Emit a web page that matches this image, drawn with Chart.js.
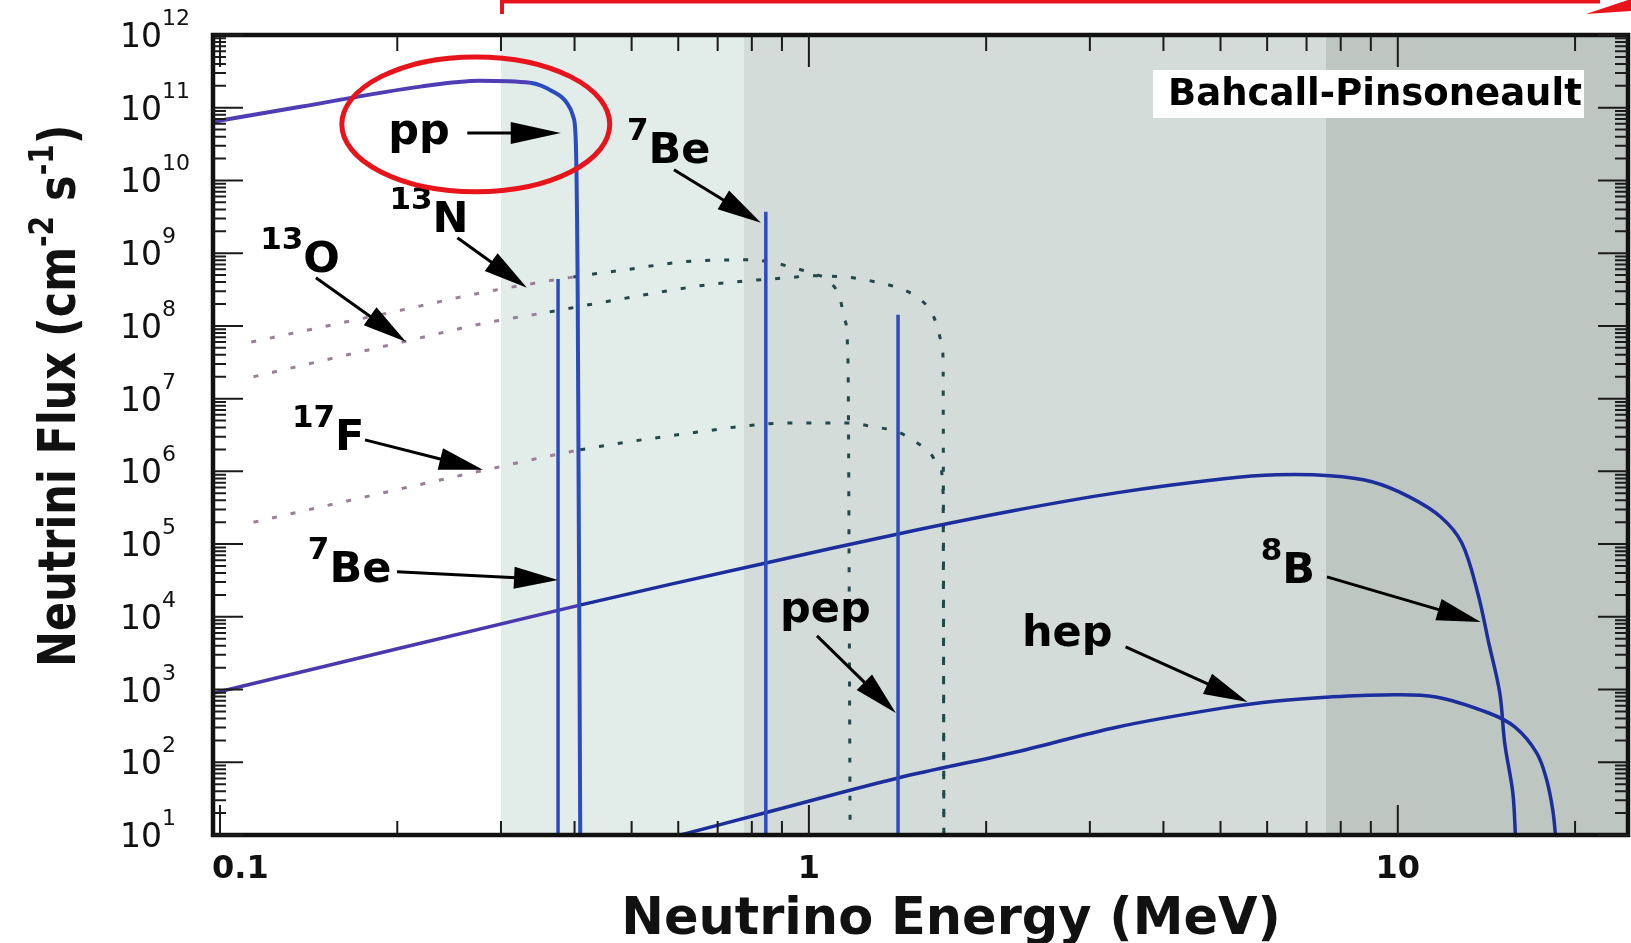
<!DOCTYPE html>
<html>
<head>
<meta charset="utf-8">
<title>Solar neutrino spectrum</title>
<script src="https://cdn.jsdelivr.net/npm/chart.js@4.4.1/dist/chart.umd.min.js"></script>
<style>
	html, body { margin: 0; padding: 0; background: #fff; }
	#wrap { width: 1631px; height: 943px; position: relative; }
</style>
</head>
<body>
<div id="wrap"><canvas id="flux"></canvas></div>
<script>
// axis limits: energy in MeV, flux in cm^-2 s^-1
var xMin = 0.0973, xMax = 24.6;
var yMin = 10, yMax = 1e12;
var xTickValues = [0.1, 1, 10];
var xTickLabels = ['0.1', '1', '10'];
var yTickExps = [1, 2, 3, 4, 5, 6, 7, 8, 9, 10, 11, 12];

// shaded threshold regions start at these energies
var bandEdges = [0.3, 0.775, 7.55];

// continuum spectra
var ppEnergy = [0.0973, 0.137, 0.219, 0.276, 0.336, 0.368, 0.388, 0.398, 0.402, 0.405, 0.409];
var ppFlux = [6.4e10, 1.03e11, 1.95e11, 2.35e11, 2.2e11, 1.66e11, 1.17e11, 7.5e10, 3.3e10, 2.3e8, 10];

var b8Energy = [0.0977, 0.410, 0.845, 1.417, 2.211, 3.346, 5.066, 6.230, 7.665, 9.035, 10.44, 11.83, 12.84, 13.67, 14.27, 14.90, 15.19, 15.68, 15.85];
var b8Flux = [898, 1.46e4, 5.5e4, 1.38e5, 2.85e5, 5.1e5, 7.9e5, 8.95e5, 8.7e5, 7.2e5, 4.5e5, 2.36e5, 1.04e5, 2.13e4, 4.4e3, 898, 184, 37.8, 9];

var hepEnergy = [0.59, 0.859, 1.417, 2.211, 3.346, 5.066, 6.230, 7.665, 9.43, 11.60, 14.27, 15.80, 17.22, 17.90, 18.33, 18.55];
var hepFlux = [9.5, 21, 60.8, 134, 306, 560, 697, 791, 843, 791, 476, 306, 134, 57, 22, 9];

var n13Energy = [0.113, 0.204, 0.283, 0.398, 0.472, 0.653, 0.794, 0.859, 0.928, 1.004, 1.086, 1.129, 1.151, 1.165, 1.175];
var n13Flux = [6.0e7, 1.66e8, 2.94e8, 4.7e8, 5.7e8, 7.9e8, 8.1e8, 7.6e8, 6.5e8, 5.4e8, 4.0e8, 2.4e8, 1.2e8, 3.4e7, 10];

var o15Energy = [0.114, 0.204, 0.283, 0.363, 0.472, 0.653, 0.785, 0.921, 1.012, 1.188, 1.294, 1.400, 1.514, 1.605, 1.649, 1.682, 1.690, 1.695];
var o15Flux = [2.0e7, 6.0e7, 1.10e8, 1.56e8, 2.29e8, 3.56e8, 4.17e8, 4.59e8, 4.89e8, 4.59e8, 4.05e8, 3.45e8, 2.6e8, 1.66e8, 1.04e8, 5.85e7, 3.2e7, 10];

var f17Energy = [0.114, 0.283, 0.409, 0.653, 0.849, 1.004, 1.174, 1.284, 1.400, 1.502, 1.605, 1.669, 1.690, 1.695];
var f17Flux = [2.0e5, 1.05e6, 1.98e6, 3.5e6, 4.5e6, 4.64e6, 4.64e6, 4.1e6, 3.6e6, 2.7e6, 1.8e6, 1.15e6, 5e5, 10];

// line sources: 7Be (two lines) and pep
var be7Energy = [0.375, 0.845];
var be7Flux = [4.4e8, 3.7e9];
var pepEnergy = [1.417];
var pepFlux = [1.42e8];

// labels: superscript, main text, text anchor (left, baseline), arrow tail and tip
var noteSup = ['', '7', '13', '13', '17', '7', '', '', '8'];
var noteMain = ['pp', 'Be', 'N', 'O', 'F', 'Be', 'pep', 'hep', 'B'];
var noteAt = [[0.193, 3.2e10], [0.491, 1.75e10], [0.194, 1.97e9], [0.117, 5.55e8], [0.1325, 1.98e6], [0.141, 3.02e4], [0.893, 8.5e3], [2.30, 3.98e3], [5.85, 2.93e4]];
var arrowFrom = [[0.263, 4.5e10], [0.590, 1.40e10], [0.253, 1.63e9], [0.1455, 4.59e8], [0.1763, 2.71e6], [0.1998, 4.15e4], [1.032, 5.46e3], [3.45, 3.85e3], [7.58, 3.54e4]];
var arrowTo = [[0.379, 4.5e10], [0.829, 2.62e9], [0.332, 3.34e8], [0.2069, 6.04e7], [0.2796, 1.05e6], [0.375, 3.22e4], [1.405, 476], [5.56, 675], [13.83, 8.5e3]];

// red highlight round the pp label: energy range and flux range
var ringEnergy = [0.161, 0.459];
var ringFlux = [7e9, 5e11];

var FONT = '"DejaVu Sans", Arial, sans-serif';
var BAND_COLORS = ['#e2ece9', '#d3dcd8', '#bec6c2'];

function pts(e, f) {
	return e.map(function (v, i) { return {x: v, y: f[i]}; });
}

function tint(inWhite, inShade) {
	return function (c) { return c.p0.parsed.x < bandEdges[0] ? inWhite : inShade; };
}

function rich(ctx, x, y, parts, size, supSize, raise, weight) {
	var cx = x;
	parts.forEach(function (p) {
		ctx.font = weight + ' ' + (p[1] ? supSize : size) + 'px ' + FONT;
		ctx.fillText(p[0], cx, p[1] ? y - raise : y);
		cx += ctx.measureText(p[0]).width;
	});
	return cx - x;
}

function arrow(ctx, x0, y0, x1, y1, len, half) {
	var ang = Math.atan2(y1 - y0, x1 - x0);
	var bx = x1 - len * Math.cos(ang), by = y1 - len * Math.sin(ang);
	ctx.beginPath();
	ctx.moveTo(x0, y0);
	ctx.lineTo(bx + 2 * Math.cos(ang), by + 2 * Math.sin(ang));
	ctx.stroke();
	ctx.beginPath();
	ctx.moveTo(x1, y1);
	ctx.lineTo(bx + half * Math.sin(ang), by - half * Math.cos(ang));
	ctx.lineTo(bx - half * Math.sin(ang), by + half * Math.cos(ang));
	ctx.closePath();
	ctx.fill();
}

var decor = {
	id: 'decor',
	beforeDatasetsDraw: function (chart) {
		var ctx = chart.ctx, a = chart.chartArea, xs = chart.scales.x;
		ctx.save();
		bandEdges.forEach(function (e, i) {
			var x0 = xs.getPixelForValue(e);
			var x1 = i + 1 < bandEdges.length ? xs.getPixelForValue(bandEdges[i + 1]) : a.right;
			ctx.fillStyle = BAND_COLORS[i];
			ctx.fillRect(x0, a.top, x1 - x0, a.bottom - a.top);
		});
		ctx.restore();
	},
	afterDatasetsDraw: function (chart) {
		var ctx = chart.ctx, a = chart.chartArea, xs = chart.scales.x, ys = chart.scales.y;
		var d, m, v, p, len;
		ctx.save();

		// frame
		ctx.strokeStyle = '#111';
		ctx.lineWidth = 4.5;
		ctx.strokeRect(a.left, a.top, a.right - a.left, a.bottom - a.top);

		// inward ticks on all four sides
		ctx.lineWidth = 2;
		ctx.strokeStyle = '#1b1b1b';
		ctx.beginPath();
		for (d = -1; d <= 1; d++) {
			for (m = 1; m <= 9; m++) {
				v = m * Math.pow(10, d);
				if (v < xMin || v > xMax) continue;
				p = xs.getPixelForValue(v);
				len = m === 1 ? 30 : 14;
				ctx.moveTo(p, a.bottom); ctx.lineTo(p, a.bottom - len);
				ctx.moveTo(p, a.top); ctx.lineTo(p, a.top + len + 2);
			}
		}
		for (d = 1; d <= 12; d++) {
			for (m = 1; m <= 9; m++) {
				v = m * Math.pow(10, d);
				if (v > yMax) continue;
				p = ys.getPixelForValue(v);
				len = m === 1 ? 30 : 13;
				ctx.moveTo(a.left, p); ctx.lineTo(a.left + len, p);
				ctx.moveTo(a.right, p); ctx.lineTo(a.right - len, p);
			}
		}
		ctx.stroke();

		// tick labels
		ctx.fillStyle = '#111';
		ctx.textBaseline = 'alphabetic';
		ctx.textAlign = 'left';
		yTickExps.forEach(function (k) {
			var py = ys.getPixelForValue(Math.pow(10, k));
			rich(ctx, a.left - 93, py + 12, [['10', 0], [String(k), 1]], 33, 22, 22, 'normal');
		});
		ctx.font = 'bold 32px ' + FONT;
		xTickValues.forEach(function (t, i) {
			var px = xs.getPixelForValue(t);
			if (px - ctx.measureText(xTickLabels[i]).width / 2 < a.left) {
				ctx.textAlign = 'left';
				ctx.fillText(xTickLabels[i], a.left - 1, a.bottom + 43);
			} else {
				ctx.textAlign = 'center';
				ctx.fillText(xTickLabels[i], px, a.bottom + 43);
			}
		});

		// axis titles
		ctx.textAlign = 'center';
		ctx.font = 'bold 51px ' + FONT;
		ctx.fillText('Neutrino Energy (MeV)', a.left + 738, a.bottom + 99);
		ctx.save();
		ctx.textAlign = 'left';
		ctx.translate(a.left - 138, a.bottom - 168);
		ctx.rotate(-Math.PI / 2);
		ctx.scale(1, 1.2);
		rich(ctx, 0, 0, [['Neutrini Flux (cm', 0], ['-2', 1], [' s', 0], ['-1', 1], [')', 0]], 43, 28, 18, 'bold');
		ctx.restore();

		// source labels with arrows
		ctx.textAlign = 'left';
		ctx.lineWidth = 3;
		ctx.strokeStyle = '#000';
		ctx.fillStyle = '#000';
		noteMain.forEach(function (txt, i) {
			var x = xs.getPixelForValue(noteAt[i][0]), y = ys.getPixelForValue(noteAt[i][1]);
			var parts = noteSup[i] ? [[noteSup[i], 1], [txt, 0]] : [[txt, 0]];
			rich(ctx, x, y, parts, 43, 31, 23, 'bold');
			arrow(ctx, xs.getPixelForValue(arrowFrom[i][0]), ys.getPixelForValue(arrowFrom[i][1]),
				xs.getPixelForValue(arrowTo[i][0]), ys.getPixelForValue(arrowTo[i][1]), i === 0 ? 50 : 44, 11);
		});

		// red ring round pp
		var rx0 = xs.getPixelForValue(ringEnergy[0]), rx1 = xs.getPixelForValue(ringEnergy[1]);
		var ry0 = ys.getPixelForValue(ringFlux[1]), ry1 = ys.getPixelForValue(ringFlux[0]);
		ctx.strokeStyle = '#e8141b';
		ctx.lineWidth = 5;
		ctx.beginPath();
		ctx.ellipse((rx0 + rx1) / 2, (ry0 + ry1) / 2, (rx1 - rx0) / 2, (ry1 - ry0) / 2, 0, 0, Math.PI * 2);
		ctx.stroke();

		// red bracket running along the top edge
		ctx.lineWidth = 4;
		ctx.beginPath();
		ctx.moveTo(502, 14);
		ctx.lineTo(502, 1.5);
		ctx.lineTo(1600, 1.5);
		ctx.stroke();
		ctx.fillStyle = '#e8141b';
		ctx.beginPath();
		ctx.moveTo(1586, 14);
		ctx.lineTo(1631, -1);
		ctx.lineTo(1631, 11);
		ctx.closePath();
		ctx.fill();

		// model name box
		ctx.fillStyle = '#fff';
		ctx.fillRect(a.right - 475, a.top + 35, 431, 48);
		ctx.fillStyle = '#000';
		ctx.font = 'bold 37px ' + FONT;
		ctx.fillText('Bahcall-Pinsoneault', a.right - 460, a.top + 70);

		ctx.restore();
	}
};

var solid = {showLine: true, pointRadius: 0, borderWidth: 3.5, cubicInterpolationMode: 'monotone'};
var smooth = {showLine: true, pointRadius: 0, borderWidth: 3.5, tension: 0.35};
var dotted = {showLine: true, pointRadius: 0, borderWidth: 3, borderDash: [5, 14], cubicInterpolationMode: 'monotone'};

function line(label, data, base, extra) {
	return Object.assign({label: label, data: data}, base, extra);
}

var datasets = [
	line('pp', pts(ppEnergy, ppFlux), solid, {borderWidth: 4, borderColor: '#2a4cc0', segment: {borderColor: tint('#4e3db5', '#2a4cc0')}}),
	line('7Be 0.38', pts([be7Energy[0], be7Energy[0]], [be7Flux[0], yMin]), solid, {borderColor: '#2a4cc0'}),
	line('7Be 0.86', pts([be7Energy[1], be7Energy[1]], [be7Flux[1], yMin]), solid, {borderColor: '#2a4cc0'}),
	line('pep', pts([pepEnergy[0], pepEnergy[0]], [pepFlux[0], yMin]), solid, {borderColor: '#2a4cc0'}),
	line('8B', pts(b8Energy, b8Flux), smooth, {borderColor: '#1c2e9c', segment: {borderColor: tint('#4a38ad', '#1c2e9c')}}),
	line('hep', pts(hepEnergy, hepFlux), smooth, {borderColor: '#1c2e9c'}),
	line('13N', pts(n13Energy, n13Flux), dotted, {borderColor: '#24474a', segment: {borderColor: tint('#9a7f98', '#24474a')}}),
	line('15O', pts(o15Energy, o15Flux), dotted, {borderColor: '#24474a', segment: {borderColor: tint('#9a7f98', '#24474a')}}),
	line('17F', pts(f17Energy, f17Flux), dotted, {borderColor: '#24474a', segment: {borderColor: tint('#9a7f98', '#24474a')}})
];

new Chart(document.getElementById('flux').getContext('2d'), {
	type: 'scatter',
	data: {datasets: datasets},
	options: {
		responsive: true,
		maintainAspectRatio: false,
		animation: false,
		devicePixelRatio: 1,
		layout: {padding: {left: 213, top: 35, right: 3, bottom: 108}},
		plugins: {legend: {display: false}, tooltip: {enabled: false}},
		scales: {
			x: {type: 'logarithmic', min: xMin, max: xMax, bounds: 'data', display: false},
			y: {type: 'logarithmic', min: yMin, max: yMax, bounds: 'data', display: false}
		}
	},
	plugins: [decor]
});
</script>
</body>
</html>
